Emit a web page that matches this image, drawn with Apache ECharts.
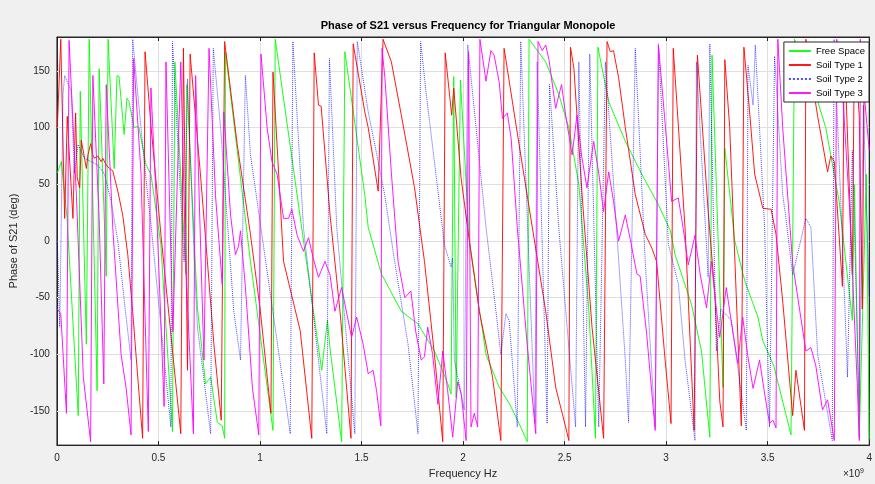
<!DOCTYPE html>
<html><head><meta charset="utf-8">
<script src="https://cdn.jsdelivr.net/npm/echarts@6/dist/echarts.min.js"></script>
<style>html,body{margin:0;padding:0;background:#f0f0f0}#c{width:875px;height:484px}</style>
</head><body><div id="c"></div>
<script>
// frequency in units of 1e9 Hz, phase in degrees
const xTicks = [0, 0.5, 1, 1.5, 2, 2.5, 3, 3.5, 4];
const yTicks = [-150, -100, -50, 0, 50, 100, 150];
const seriesNames = ['Free Space', 'Soil Type 1', 'Soil Type 2', 'Soil Type 3'];

const freeFreq = [0.002,0.022,0.05,0.105,0.115,0.145,0.159,0.198,0.208,0.243,0.252,0.282,0.296,0.306,0.331,0.345,0.355,0.380,0.394,0.404,0.439,0.463,0.512,0.569,0.581,0.635,0.640,0.692,0.732,0.757,0.790,0.814,0.826,0.830,0.953,1.064,1.075,1.304,1.332,1.345,1.402,1.418,1.516,1.533,1.598,1.696,1.778,1.859,1.925,1.941,1.954,1.966,1.987,2.031,2.113,2.178,2.227,2.276,2.316,2.325,2.407,2.472,2.521,2.570,2.619,2.652,2.664,2.717,2.799,2.880,2.962,3.021,3.044,3.125,3.174,3.215,3.226,3.280,3.289,3.338,3.387,3.452,3.476,3.530,3.615,3.632,3.721,3.786,3.852,3.917,3.927,3.951,3.986,4.0];
const freePhase = [60,70,20,-154,132,-91,178,-132,152,-31,178,64,146,145,94,126,123,100,101,100,67,59,-3,-168,158,-29,138,-59,-126,-120,-160,-163,-174,167,-18,-167,178,-114,-70,-95,-177,167,41,12,-29,-62,-73,-97,-126,-135,145,-138,142,0,-100,-129,-143,-161,-177,178,158,129,100,50,-60,-174,171,123,88,59,32,9,-12,-56,-97,-173,164,-129,82,0,-35,-67,-88,-110,-171,178,138,100,35,-70,50,-173,59,-175];

const soil1Freq = [0.002,0.019,0.038,0.051,0.063,0.079,0.092,0.100,0.112,0.120,0.128,0.136,0.145,0.153,0.166,0.177,0.185,0.202,0.218,0.226,0.243,0.259,0.275,0.300,0.324,0.349,0.373,0.398,0.422,0.434,0.463,0.512,0.610,0.623,0.643,0.656,0.708,0.741,0.773,0.809,0.826,0.888,0.953,1.002,1.054,1.064,1.116,1.198,1.255,1.267,1.288,1.301,1.345,1.394,1.448,1.459,1.516,1.533,1.582,1.606,1.647,1.696,1.761,1.810,1.859,1.900,1.912,1.944,1.954,1.990,2.031,2.080,2.145,2.186,2.202,2.276,2.341,2.407,2.456,2.505,2.521,2.529,2.546,2.586,2.635,2.692,2.709,2.725,2.741,2.766,2.799,2.848,2.897,2.929,2.953,2.995,3.024,3.035,3.093,3.138,3.154,3.207,3.240,3.264,3.280,3.289,3.313,3.345,3.370,3.383,3.411,3.436,3.476,3.517,3.541,3.574,3.623,3.639,3.681,3.688,3.746,3.795,3.811,3.828,3.868,3.877,3.917,3.927,3.951,3.966,3.976,4.0];
const soil1Phase = [100,178,20,110,70,20,113,56,47,89,88,73,64,76,86,76,73,75,70,73,67,64,62,44,23,-12,-62,-120,-174,167,102,6,-170,170,-114,165,56,-18,-91,-158,176,85,6,-62,-152,149,-18,-79,-174,166,120,119,23,-62,-174,174,114,100,44,178,158,111,47,-18,-100,-177,166,111,135,56,0,-62,-120,-176,170,85,12,-62,-129,-164,-176,171,152,41,-76,-174,176,167,168,144,100,41,6,-6,-18,-105,-161,170,12,-167,164,26,-47,-141,-164,160,100,-47,-163,171,114,59,29,28,6,-53,-154,-114,-167,178,110,61,75,70,-40,175,-30,175,110,-60,170,140];

const soil2Freq = [0.002,0.014,0.030,0.038,0.071,0.086,0.104,0.136,0.169,0.202,0.234,0.267,0.300,0.332,0.365,0.373,0.414,0.447,0.463,0.561,0.569,0.626,0.643,0.675,0.692,0.757,0.770,0.806,0.871,0.904,0.928,0.953,1.002,1.149,1.162,1.214,1.329,1.342,1.378,1.467,1.479,1.533,1.582,1.614,1.663,1.729,1.778,1.791,1.819,1.859,1.908,1.941,1.949,1.957,2.006,2.023,2.064,2.113,2.162,2.186,2.211,2.227,2.267,2.284,2.354,2.365,2.414,2.426,2.472,2.554,2.570,2.603,2.624,2.668,2.701,2.799,2.815,2.848,2.897,2.946,2.962,3.011,3.060,3.093,3.142,3.149,3.207,3.215,3.247,3.270,3.321,3.395,3.403,3.428,3.439,3.485,3.509,3.534,3.574,3.590,3.623,3.688,3.713,3.746,3.818,3.827,3.868,3.893,3.917,3.951,3.971,4.0];
const soil2Phase = [0,-76,129,146,132,60,85,73,70,67,59,35,0,-53,-105,178,100,40,15,-164,176,-18,143,-12,-76,-170,170,100,-62,-105,146,76,15,-170,176,12,-170,161,12,-170,176,114,70,41,-18,-91,-170,176,129,70,-3,-23,-15,-105,-149,173,100,12,-62,-100,-64,-70,-164,176,-161,158,-161,138,10,-164,158,-164,165,-164,158,-105,-160,170,-18,-164,174,-3,-38,-105,-176,158,-32,174,-97,-60,-70,-167,155,120,173,12,-164,163,41,20,-30,20,12,-100,-176,178,0,-120,80,-150,120,-50];

const soil3Freq = [0.002,0.019,0.047,0.060,0.096,0.130,0.166,0.177,0.208,0.231,0.243,0.275,0.316,0.341,0.365,0.378,0.414,0.450,0.463,0.488,0.528,0.537,0.571,0.610,0.634,0.672,0.683,0.724,0.749,0.781,0.814,0.822,0.855,0.879,0.894,0.904,0.928,0.963,0.994,1.005,1.035,1.059,1.084,1.116,1.141,1.157,1.183,1.214,1.239,1.262,1.288,1.320,1.345,1.369,1.402,1.423,1.451,1.476,1.508,1.533,1.557,1.574,1.595,1.601,1.615,1.647,1.680,1.713,1.743,1.767,1.794,1.810,1.826,1.850,1.876,1.900,1.923,1.949,1.974,1.991,2.015,2.027,2.039,2.055,2.072,2.083,2.113,2.137,2.153,2.178,2.194,2.218,2.237,2.267,2.315,2.358,2.369,2.390,2.407,2.423,2.456,2.472,2.485,2.506,2.537,2.561,2.584,2.610,2.643,2.668,2.692,2.717,2.741,2.766,2.799,2.825,2.856,2.872,2.903,2.946,2.962,2.992,3.027,3.060,3.085,3.109,3.142,3.168,3.199,3.223,3.241,3.264,3.296,3.324,3.353,3.377,3.401,3.428,3.460,3.481,3.509,3.526,3.541,3.550,3.574,3.623,3.688,3.713,3.737,3.770,3.795,3.828,3.840,3.869,3.903,3.942,3.951,3.956,3.980,4.0];
const soil3Phase = [-60,-64,-152,177,40,-120,-177,146,20,-126,138,12,-100,-130,-171,161,60,-168,135,40,-146,158,-80,158,-20,-170,146,-105,170,40,-38,114,23,-12,-5,9,-40,-130,-171,165,100,70,59,20,20,28,5,-9,3,-15,-32,-18,-30,-62,-41,-60,-85,-67,-91,-117,-114,-132,-163,170,144,60,-18,-50,-44,-80,-105,-102,-76,-100,-144,-97,-130,-173,-124,-135,-176,167,-164,-152,-164,178,141,168,164,140,108,113,90,12,-90,-170,176,168,173,160,117,129,138,110,76,111,75,47,88,60,26,61,35,0,23,0,-29,-31,-80,-167,173,110,35,38,10,-21,5,-30,-59,-18,-50,-85,-41,-75,-108,-67,-100,-130,-105,-130,-161,-158,-165,178,100,-20,-97,-94,-110,-149,-140,-176,178,130,30,-130,-176,178,120,80];

const zip = (a, b) => a.map((v, i) => [v, b[i]]);
const colors = ['#00ff00', '#ff0000', '#0000ff', '#ff00ff'];
const dataSets = [zip(freeFreq, freePhase), zip(soil1Freq, soil1Phase), zip(soil2Freq, soil2Phase), zip(soil3Freq, soil3Phase)];
const F = 'Liberation Sans, Arial, Helvetica, sans-serif';

const chart = echarts.init(document.getElementById('c'), null, {renderer: 'canvas'});
const series = dataSets.map((d, i) => ({
  name: seriesNames[i], type: 'line', data: d, symbol: 'none', showSymbol: false,
  animation: false, clip: true, z: 3 + i,
  lineStyle: {color: colors[i], width: 1, type: i === 2 ? 'dotted' : 'solid', opacity: i === 2 ? 0.7 : 0.9},
  itemStyle: {color: colors[i]}
}));
series[0].markLine = {
  silent: true, symbol: 'none', animation: false, z: 1,
  label: {show: false},
  lineStyle: {color: '#dfdfdf', width: 1, type: 'solid'},
  data: yTicks.map(v => ({yAxis: v}))
};
chart.setOption({
  backgroundColor: '#f0f0f0',
  animation: false,
  title: {
    text: 'Phase of S21 versus Frequency for Triangular Monopole',
    left: 463, top: 15, textAlign: 'center',
    textStyle: {fontFamily: F, fontSize: 11, fontWeight: 'bold', color: '#000'}
  },
  grid: {left: 55, right: 3, top: 37, bottom: 36, show: true, backgroundColor: '#ffffff', borderColor: '#262626', borderWidth: 1},
  legend: {
    data: seriesNames, orient: 'vertical', right: 6, top: 42, z: 50, zlevel: 1,
    backgroundColor: '#ffffff', borderColor: '#262626', borderWidth: 1,
    padding: [4, 4, 4, 4], itemGap: 4, itemWidth: 22, itemHeight: 10,
    itemStyle: {opacity: 0},
    textStyle: {fontFamily: F, fontSize: 9.5, color: '#000'}
  },
  xAxis: [{
    type: 'value', min: 0, max: 4, interval: 0.5,
    name: 'Frequency Hz', nameLocation: 'middle', nameGap: 22,
    nameTextStyle: {fontFamily: F, fontSize: 11, color: '#262626'},
    axisLine: {show: true, onZero: false, lineStyle: {color: '#262626'}},
    axisTick: {show: true, inside: true, length: 4, lineStyle: {color: '#262626'}},
    axisLabel: {fontFamily: F, fontSize: 10, color: '#262626', margin: 8, formatter: v => String(v)},
    splitLine: {show: true, lineStyle: {color: '#dfdfdf', width: 1}}
  }, {
    type: 'value', min: 0, max: 4, interval: 0.5, position: 'top',
    axisLine: {show: true, onZero: false, lineStyle: {color: '#262626'}},
    axisTick: {show: true, inside: true, length: 4, lineStyle: {color: '#262626'}},
    axisLabel: {show: false}, splitLine: {show: false}
  }],
  yAxis: [{
    type: 'value', min: -180, max: 180,
    name: 'Phase of S21 (deg)', nameLocation: 'middle', nameGap: 27,
    nameTextStyle: {fontFamily: F, fontSize: 11, color: '#262626'},
    axisLine: {show: true, onZero: false, lineStyle: {color: '#262626'}},
    axisTick: {show: true, inside: true, length: 4, customValues: yTicks, lineStyle: {color: '#262626'}},
    axisLabel: {fontFamily: F, fontSize: 10, color: '#262626', margin: 7, customValues: yTicks},
    splitLine: {show: false}
  }, {
    type: 'value', min: -180, max: 180, position: 'right',
    axisLine: {show: true, onZero: false, lineStyle: {color: '#262626'}},
    axisTick: {show: true, inside: true, length: 4, customValues: yTicks, lineStyle: {color: '#262626'}},
    axisLabel: {show: false}, splitLine: {show: false}
  }],
  graphic: [{
    type: 'text', left: 843, top: 468,
    style: {
      text: '×10{s|9}', fontFamily: F, fontSize: 10, fill: '#262626',
      rich: {s: {fontSize: 7, verticalAlign: 'top', fill: '#262626', padding: [0, 0, 6, 0]}}
    }
  }],
  series: series
});
</script></body></html>
